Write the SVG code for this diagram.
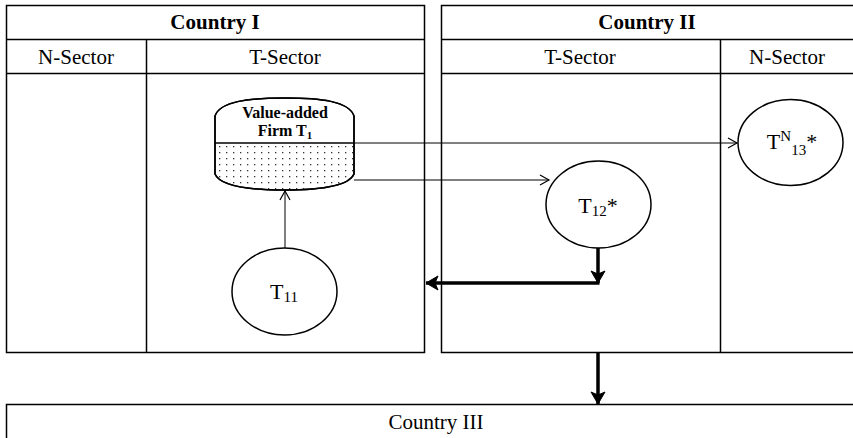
<svg xmlns="http://www.w3.org/2000/svg" width="853" height="438" viewBox="0 0 853 438" font-family="'Liberation Serif','Times New Roman','DejaVu Serif',serif">
<style>
.box{fill:none;stroke:#000;stroke-width:1.5}
.t{font-family:'Liberation Serif','Times New Roman','DejaVu Serif',serif;fill:#000;text-anchor:middle}
.b{font-weight:bold}
.n{fill:#fff;stroke:#000;stroke-width:1.5}
.thin{fill:none;stroke:#000;stroke-width:1}
.thick{fill:none;stroke:#000;stroke-width:3.5}
</style>
<defs>
<pattern id="dots" width="7" height="6" patternUnits="userSpaceOnUse">
<rect x="2" y="2" width="1.3" height="1.3" fill="#333"/>
</pattern>
<marker id="open" markerWidth="12" markerHeight="12" refX="10" refY="6" orient="auto" markerUnits="userSpaceOnUse">
<path d="M1,1 L10,6 L1,11" fill="none" stroke="#000" stroke-width="1.2"/>
</marker>
<marker id="bold" markerWidth="16" markerHeight="16" refX="13" refY="8" orient="auto" markerUnits="userSpaceOnUse">
<path d="M1,1 L13,8 L1,15 L4,8 Z" fill="#000" stroke="#000" stroke-width="1"/>
</marker>
</defs>
<rect width="853" height="438" fill="#fff"/>
<g id="country1">
<rect class="box" x="6.5" y="5.5" width="418" height="347"/>
<line class="box" x1="6.5" y1="39.5" x2="424.5" y2="39.5"/>
<line class="box" x1="6.5" y1="73.5" x2="424.5" y2="73.5"/>
<line class="box" x1="146.5" y1="39.5" x2="146.5" y2="352.5"/>
<text class="t b" x="215" y="29" style="font-size:21px">Country I</text>
<text class="t" x="76" y="64" style="font-size:21px">N-Sector</text>
<text class="t" x="285" y="64" style="font-size:21px">T-Sector</text>
</g>
<g id="country2">
<path class="box" d="M856,5.5 H441.5 V352.5 H856"/>
<line class="box" x1="441.5" y1="39.5" x2="856" y2="39.5"/>
<line class="box" x1="441.5" y1="73.5" x2="856" y2="73.5"/>
<line class="box" x1="720.5" y1="39.5" x2="720.5" y2="352.5"/>
<text class="t b" x="647" y="29" style="font-size:21px">Country II</text>
<text class="t" x="580" y="64" style="font-size:21px">T-Sector</text>
<text class="t" x="787" y="64" style="font-size:21px">N-Sector</text>
</g>
<g id="country3">
<path class="box" d="M6.5,442 V404.5 H856"/>
<text class="t" x="436" y="429" style="font-size:21px">Country III</text>
</g>
<g id="firmT1">
<path class="n" d="M215,116 C220,101 250,98 285,98 C320,98 349,101 354,116 L354,174 C349,186 320,190 285,190 C250,190 220,186 215,174 Z"/>
<path d="M215,143 L354,143 L354,174 C349,186 320,190 285,190 C250,190 220,186 215,174 Z" fill="url(#dots)" stroke="none"/>
<path class="box" d="M215,116 C220,101 250,98 285,98 C320,98 349,101 354,116 L354,174 C349,186 320,190 285,190 C250,190 220,186 215,174 Z"/>
<line class="box" x1="215" y1="143" x2="354" y2="143"/>
<text class="t b" x="285" y="118" style="font-size:16px">Value-added</text>
<text class="t b" x="285" y="136" style="font-size:16px">Firm T<tspan style="font-size:11px" dy="3">1</tspan></text>
</g>
<g id="T11">
<ellipse class="n" cx="284.5" cy="291.5" rx="52.5" ry="43.5"/>
<text class="t" x="284" y="299" style="font-size:22px">T<tspan style="font-size:15px" dy="3">11</tspan></text>
</g>
<g id="T12">
<ellipse class="n" cx="598.5" cy="204.5" rx="52.5" ry="43.5"/>
<text class="t" x="598" y="213" style="font-size:22px">T<tspan style="font-size:15px" dy="3">12</tspan><tspan dy="-3">*</tspan></text>
</g>
<g id="TN13">
<ellipse class="n" cx="790.5" cy="142.5" rx="52.5" ry="43"/>
<text class="t" x="792" y="149" style="font-size:22px">T<tspan style="font-size:15px" dy="-8">N</tspan><tspan style="font-size:15px" dy="14">13</tspan><tspan dy="-6">*</tspan></text>
</g>
<g id="connectors">
<line class="thin" x1="354" y1="143" x2="737" y2="143" marker-end="url(#open)"/>
<line class="thin" x1="354" y1="180" x2="549" y2="180" marker-end="url(#open)"/>
<line class="thin" x1="285" y1="248" x2="285" y2="191" marker-end="url(#open)"/>
<line class="thick" x1="598" y1="248" x2="598" y2="283" marker-end="url(#bold)"/>
<line class="thick" x1="599.5" y1="283" x2="426" y2="283" marker-end="url(#bold)"/>
<line class="thick" x1="598" y1="352" x2="598" y2="404" marker-end="url(#bold)"/>
</g>
</svg>
